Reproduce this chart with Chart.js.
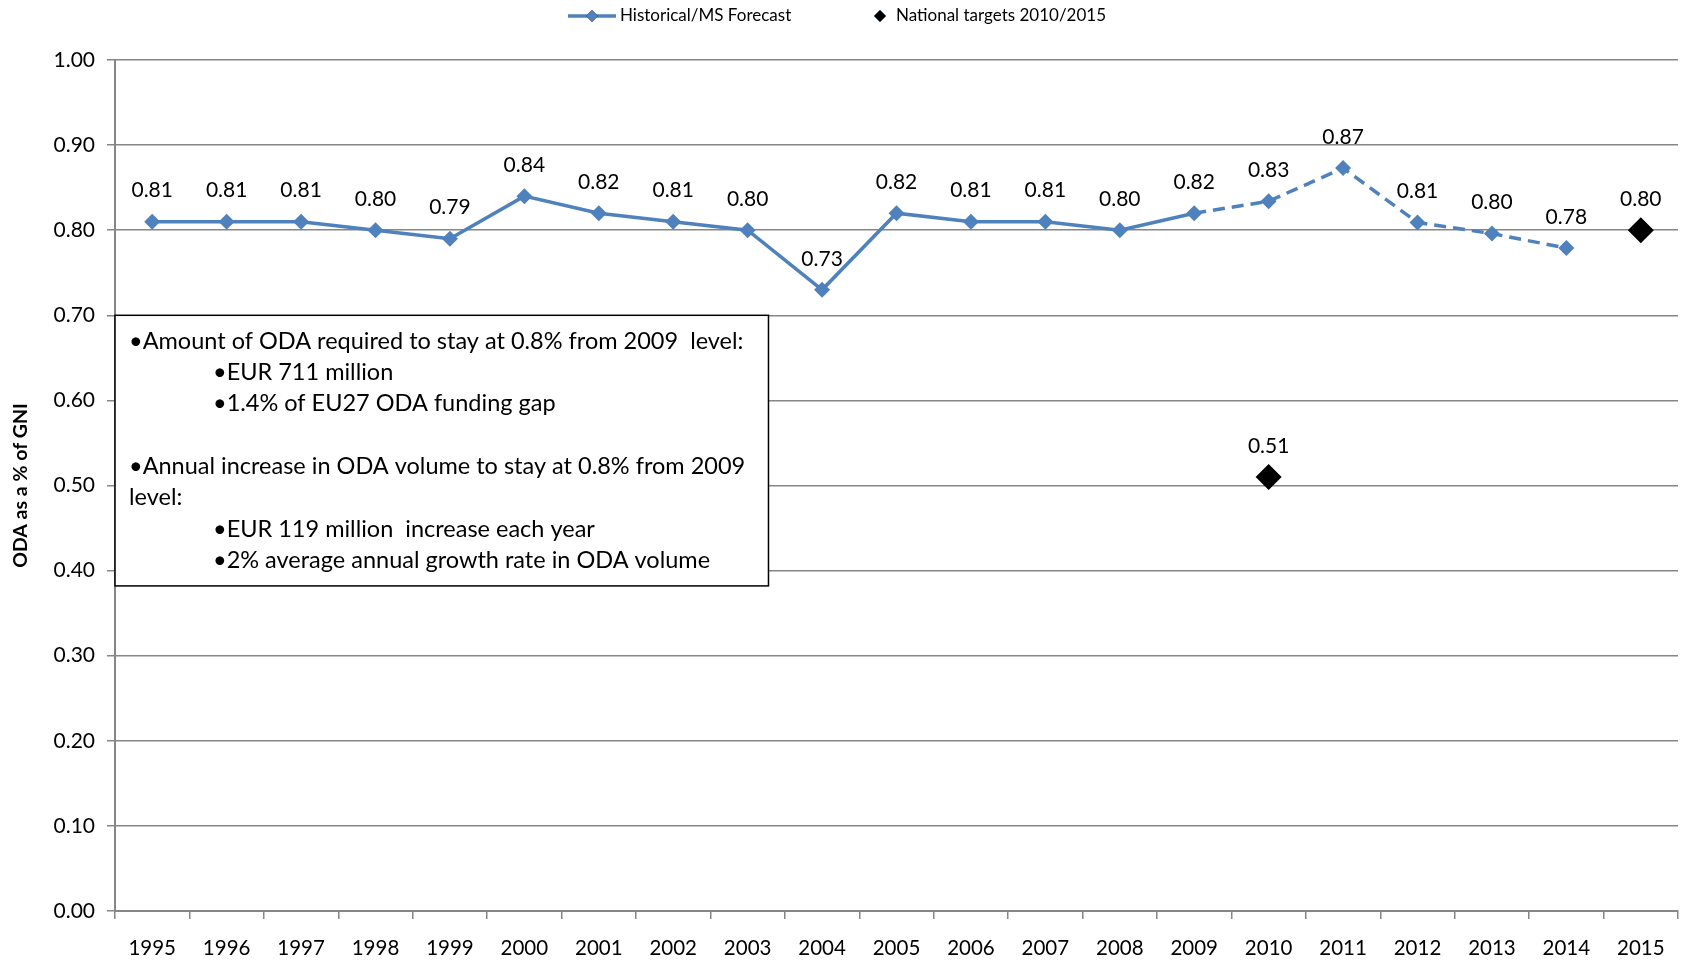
<!DOCTYPE html>
<html lang="en">
  <head>
    <meta charset="UTF-8" />
    <title>ODA as a % of GNI</title>
    <style>
      html, body { margin: 0; padding: 0; background: #fff; overflow: hidden; }
      #wrap { width: 1686px; height: 969px; position: relative; overflow: hidden; }
      #odaChart { display: block; }
    </style>
  </head>
  <body>
    <div id="wrap"><canvas id="odaChart"></canvas></div>

    <script src="https://cdn.jsdelivr.net/npm/chart.js@4/dist/chart.umd.min.js"></script>
    <script>
      // ---- data ----
      var years = ["1995", "1996", "1997", "1998", "1999", "2000", "2001", "2002", "2003", "2004",
        "2005", "2006", "2007", "2008", "2009", "2010", "2011", "2012", "2013", "2014", "2015"];
      // historical 1995-2009, MS forecast 2010-2014 (dashed)
      var odaShare = [0.81, 0.81, 0.81, 0.80, 0.79, 0.84, 0.82, 0.81, 0.80, 0.73,
        0.82, 0.81, 0.81, 0.80, 0.82, 0.834, 0.873, 0.809, 0.796, 0.779, null];
      var nationalTargets = [null, null, null, null, null, null, null, null, null, null,
        null, null, null, null, null, 0.51, null, null, null, null, 0.80];
      var forecastFrom = 14; // index of 2009, dashes start after it
      var yTicks = [0, 0.1, 0.2, 0.3, 0.4, 0.5, 0.6, 0.7, 0.8, 0.9, 1.0];

      var boxLines = [
        [0, "\u2022Amount of ODA required to stay at 0.8% from 2009  level:"],
        [1, "\u2022EUR 711 million"],
        [1, "\u20221.4% of EU27 ODA funding gap"],
        null,
        [0, "\u2022Annual increase in ODA volume to stay at 0.8% from 2009"],
        [0, "level:"],
        [1, "\u2022EUR 119 million  increase each year"],
        [1, "\u20222% average annual growth rate in ODA volume"],
      ];

      var FONT = "Lato, 'Open Sans', sans-serif";
      var BLUE = "#4F81BD";
      var GREY = "#868686";

      // value labels above every point
      var valueLabels = {
        id: "valueLabels",
        afterDatasetsDraw: function (chart) {
          var ctx = chart.ctx;
          ctx.save();
          ctx.font = "21px " + FONT;
          ctx.fillStyle = "#000";
          ctx.textAlign = "center";
          ctx.textBaseline = "middle";
          chart.data.datasets.forEach(function (ds, di) {
            var meta = chart.getDatasetMeta(di);
            meta.data.forEach(function (pt, i) {
              var v = ds.data[i];
              if (v === null || v === undefined) return;
              ctx.fillText(v.toFixed(2), pt.x, pt.y - 31);
            });
          });
          ctx.restore();
        },
      };

      // text box inside the plot
      var noteBox = {
        id: "noteBox",
        beforeDatasetsDraw: function (chart) {
          var ctx = chart.ctx;
          var x = chart.scales.x, y = chart.scales.y;
          var left = chart.chartArea.left;
          var right = x.getPixelForValue(8.28);
          var top = y.getPixelForValue(0.70);
          var bottom = y.getPixelForValue(0.382);
          ctx.save();
          ctx.fillStyle = "#fff";
          ctx.fillRect(left, top, right - left, bottom - top);
          ctx.strokeStyle = "#000";
          ctx.lineWidth = 1.5;
          ctx.strokeRect(left, top, right - left, bottom - top);
          ctx.font = "23.5px " + FONT;
          ctx.fillStyle = "#000";
          ctx.textBaseline = "middle";
          ctx.textAlign = "left";
          boxLines.forEach(function (ln, k) {
            if (!ln) return;
            var tx = left + (ln[0] === 0 ? 14 : 98);
            ctx.fillText(ln[1], tx, top + 26 + k * 31.3);
          });
          ctx.restore();
        },
      };

      // legend at the top
      var topLegend = {
        id: "topLegend",
        afterDraw: function (chart) {
          var ctx = chart.ctx;
          var cy = 16;
          ctx.save();
          ctx.strokeStyle = BLUE;
          ctx.lineWidth = 3.5;
          ctx.beginPath();
          ctx.moveTo(568, cy);
          ctx.lineTo(616, cy);
          ctx.stroke();
          Chart.helpers.drawPoint(ctx, { pointStyle: "rectRot", radius: 6, borderWidth: 0 }, 592, cy);
          ctx.fillStyle = BLUE;
          ctx.fill();
          ctx.beginPath();
          Chart.helpers.drawPoint(ctx, { pointStyle: "rectRot", radius: 6, borderWidth: 0 }, 880, cy);
          ctx.fillStyle = "#000";
          ctx.fill();
          ctx.font = "17px " + FONT;
          ctx.textBaseline = "middle";
          ctx.textAlign = "left";
          ctx.fillText("Historical/MS Forecast", 620, cy);
          ctx.fillText("National targets 2010/2015", 896, cy);
          ctx.restore();
        },
      };

      var ctx = document.getElementById("odaChart").getContext("2d");
      var odaChart = new Chart(ctx, {
        type: "line",
        data: {
          labels: years,
          datasets: [
            {
              label: "Historical/MS Forecast",
              data: odaShare,
              borderColor: BLUE,
              backgroundColor: BLUE,
              borderWidth: 3.5,
              pointStyle: "rectRot",
              pointRadius: 8,
              pointBorderWidth: 0,
              tension: 0,
              segment: {
                borderDash: function (c) {
                  return c.p0DataIndex >= forecastFrom ? [12, 7] : undefined;
                },
              },
            },
            {
              label: "National targets 2010/2015",
              data: nationalTargets,
              showLine: false,
              borderColor: "#000",
              backgroundColor: "#000",
              pointStyle: "rectRot",
              pointRadius: 13,
              pointBorderWidth: 0,
            },
          ],
        },
        options: {
          responsive: true,
          maintainAspectRatio: false,
          animation: false,
          layout: { autoPadding: false, padding: { top: 60, right: 8, left: 0, bottom: 0 } },
          plugins: {
            legend: { display: false },
            tooltip: { enabled: false },
          },
          scales: {
            x: {
              offset: true,
              grid: {
                offset: true,
                drawOnChartArea: false,
                drawTicks: true,
                tickLength: 8,
                color: GREY,
                lineWidth: 1.5,
              },
              border: { color: GREY, width: 2 },
              ticks: {
                color: "#000",
                font: { family: FONT, size: 20.5 },
                padding: 17,
                maxRotation: 0,
                autoSkip: false,
              },
              afterFit: function (scale) {
                scale.height = 58;
                scale.paddingLeft = 0;
                scale.paddingRight = 0;
              },
            },
            y: {
              min: 0,
              max: 1,
              afterBuildTicks: function (scale) {
                scale.ticks = yTicks.map(function (v) { return { value: v }; });
              },
              grid: { color: GREY, lineWidth: 1.5, tickLength: 8 },
              border: { color: GREY, width: 2 },
              ticks: {
                color: "#000",
                font: { family: FONT, size: 21 },
                padding: 12,
                callback: function (v) { return Number(v).toFixed(2); },
              },
              title: {
                display: true,
                text: "ODA as a % of GNI",
                color: "#000",
                font: { family: FONT, size: 19.5, weight: "bold" },
                padding: { top: 9, bottom: 0 },
              },
              afterFit: function (scale) { scale.width = 115; },
            },
          },
        },
        plugins: [noteBox, valueLabels, topLegend],
      });
    </script>
  </body>
</html>
